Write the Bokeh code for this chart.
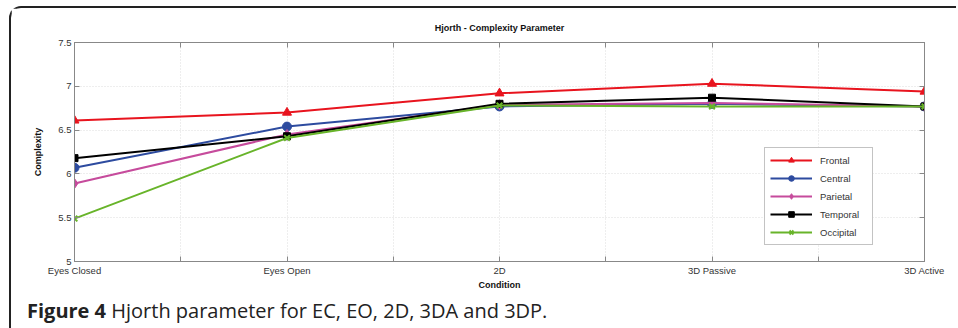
from bokeh.plotting import figure
from bokeh.models import (FixedTicker, LinearAxis, Legend, LegendItem, Div, Range1d)
from bokeh.layouts import column
from bokeh.embed import file_html
from bokeh.resources import INLINE

conditions = ["Eyes Closed", "Eyes Open", "2D", "3D Passive", "3D Active"]
frontal = [6.61, 6.70, 6.92, 7.03, 6.94]
central = [6.07, 6.54, 6.77, 6.80, 6.77]
parietal = [5.89, 6.45, 6.79, 6.81, 6.77]
temporal = [6.18, 6.43, 6.80, 6.87, 6.77]
occipital = [5.49, 6.41, 6.78, 6.77, 6.77]
y_ticks = [5, 5.5, 6, 6.5, 7, 7.5]

xs = list(range(len(conditions)))
x_ticks = [i * 0.5 for i in range(2 * (len(conditions) - 1) + 1)]
overrides = {}
for t in x_ticks:
    overrides[t] = conditions[int(t)] if float(t).is_integer() else ""

FONT = "Liberation Sans"
TXT = "#333333"

p = figure(width=945, height=286, output_backend="svg", toolbar_location=None,
           x_range=Range1d(0, 4), y_range=Range1d(5, 7.5),
           min_border_left=63, min_border_right=32, min_border_top=34, min_border_bottom=33,
           title="Hjorth - Complexity Parameter")
p.title.align = "center"
p.title.text_font = FONT
p.title.text_font_size = "9px"
p.title.text_font_style = "bold"
p.title.text_color = "#111111"
p.title.standoff = 19
p.outline_line_color = "#888888"
p.outline_line_width = 1

p.xaxis.ticker = FixedTicker(ticks=x_ticks)
p.xaxis.major_label_overrides = overrides
p.yaxis.ticker = FixedTicker(ticks=y_ticks)
p.yaxis.major_label_overrides = {5: "5", 6: "6", 7: "7"}
p.xaxis.axis_label = "Condition"
p.yaxis.axis_label = "Complexity"

for ax in [p.xaxis[0], p.yaxis[0]]:
    ax.axis_line_color = "#888888"
    ax.major_tick_line_color = "#888888"
    ax.major_tick_in = 5
    ax.major_tick_out = 0
    ax.minor_tick_line_color = None
    ax.major_label_text_font = FONT
    ax.major_label_text_font_size = "9.5px"
    ax.major_label_text_color = TXT
    ax.axis_label_text_font = FONT
    ax.axis_label_text_font_size = "9px"
    ax.axis_label_text_font_style = "bold"
    ax.axis_label_text_color = "#111111"
    ax.major_label_standoff = 3
p.xaxis.axis_label_standoff = 1
p.yaxis.axis_label_standoff = 12

top_ax = LinearAxis(ticker=FixedTicker(ticks=x_ticks), major_label_text_font_size="0px",
                    axis_line_color="#888888", major_tick_line_color="#888888",
                    major_tick_in=5, major_tick_out=0, minor_tick_line_color=None)
right_ax = LinearAxis(ticker=FixedTicker(ticks=y_ticks), major_label_text_font_size="0px",
                      axis_line_color="#888888", major_tick_line_color="#888888",
                      major_tick_in=5, major_tick_out=0, minor_tick_line_color=None)
top_ax.major_label_overrides = {t: "" for t in x_ticks}
right_ax.major_label_overrides = {t: "" for t in y_ticks}
p.add_layout(top_ax, "above")
p.add_layout(right_ax, "right")

p.xgrid.ticker = FixedTicker(ticks=x_ticks)
p.ygrid.ticker = FixedTicker(ticks=y_ticks)
for g in [p.xgrid[0], p.ygrid[0]]:
    g.grid_line_color = "#dcdcdc"
    g.grid_line_dash = "1 2"
    g.grid_line_width = 1

series = [
    ("Frontal", frontal, "#e8141e", "triangle", 9),
    ("Central", central, "#2d4b9f", "circle", 9),
    ("Parietal", parietal, "#c64b9c", "diamond", 10),
    ("Temporal", temporal, "#000000", "square", 7),
    ("Occipital", occipital, "#68b42a", "x", 8),
]
items = []
for name, ys, col, mk, sz in series:
    r1 = p.line(xs, ys, line_color=col, line_width=2)
    if mk == "x":
        r2 = p.scatter(xs, ys, marker=mk, size=sz, line_color=col, line_width=2)
    else:
        r2 = p.scatter(xs, ys, marker=mk, size=sz, fill_color=col, line_color=col)
    items.append(LegendItem(label=name, renderers=[r1, r2]))

legend = Legend(items=items, location=(690, 16))
legend.glyph_width = 42
legend.glyph_height = 14
legend.spacing = 4
legend.padding = 5
legend.margin = 0
legend.label_standoff = 8
legend.label_height = 14
legend.label_width = 47
legend.label_text_font = FONT
legend.label_text_font_size = "9.5px"
legend.label_text_color = TXT
legend.border_line_color = "#888888"
legend.border_line_width = 1
legend.background_fill_alpha = 1
p.add_layout(legend, "center")

caption = Div(
    text='<span style="font-family:\'Open Sans\';font-size:20px;color:#222;white-space:nowrap">'
         '<b>Figure 4</b> Hjorth parameter for EC, EO, 2D, 3DA and 3DP.</span>',
    width=900, height=26, styles={"margin-left": "16px", "margin-top": "3px"})

layout = column(p, caption, spacing=0,
                styles={"border-top": "2px solid #222", "border-left": "2px solid #222",
                        "border-top-left-radius": "12px",
                        "margin-left": "9px", "margin-top": "6px"})

open("out.html", "w").write(file_html(layout, INLINE))
